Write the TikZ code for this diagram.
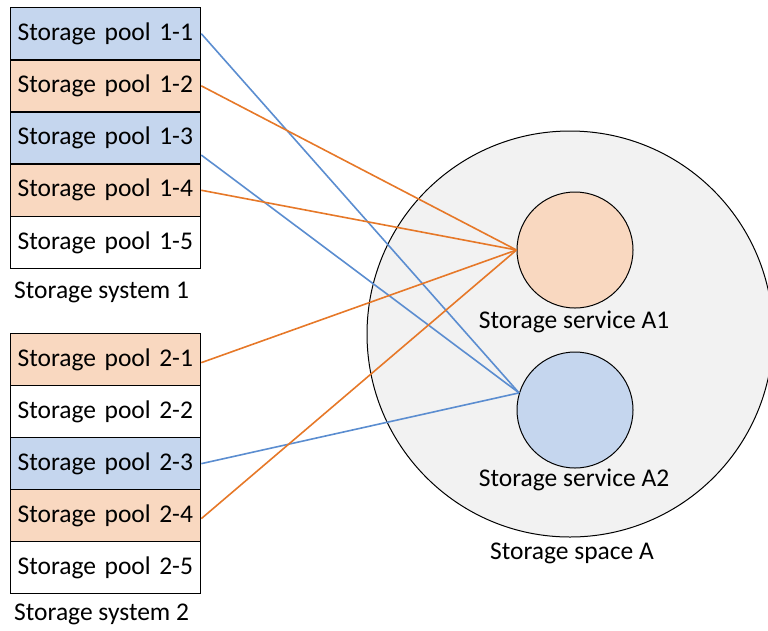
\documentclass[tikz,border=0pt]{standalone}
\usepackage{fontspec}
\setmainfont{Carlito}
\definecolor{bfill}{RGB}{197,214,238}
\definecolor{ofill}{RGB}{249,216,192}
\definecolor{bline}{RGB}{91,141,208}
\definecolor{oline}{RGB}{230,120,40}
\definecolor{spacefill}{RGB}{242,242,242}
\begin{document}
\begin{tikzpicture}[x=1pt,y=-1pt,
  pool/.style={draw=black, line width=1.3pt, minimum width=190pt, minimum height=52pt, text width=176pt, inner xsep=7pt, align=left, anchor=north west, font=\fontsize{25.5}{30}\selectfont},
  lbl/.style={font=\fontsize{25.5}{30}\selectfont, inner sep=0pt},
  svc/.style={draw=black, line width=1pt, circle, minimum size=116pt, inner sep=0pt},
  bl/.style={draw=bline, line width=1.6pt},
  ol/.style={draw=oline, line width=1.6pt}]
\useasboundingbox (0,0) rectangle (768,630);
% storage space
\node[draw=black, line width=1pt, circle, fill=spacefill, minimum size=406pt, inner sep=0pt] (space) at (570,334) {};
\node[svc, fill=ofill] (a1) at (575,250) {};
\node[svc, fill=bfill] (a2) at (575,410) {};
\node[lbl] (a1l) at (574,322) {Storage service A1};
\node[lbl] (a2l) at (574,480) {Storage service A2};
\node[lbl] (spl) at (572,553) {Storage space A};
% system 1
\node[pool, fill=bfill] (p11) at (10,7) {Storage pool 1-1};
\node[pool, fill=ofill] (p12) at (10,59.2) {Storage pool 1-2};
\node[pool, fill=bfill] (p13) at (10,111.4) {Storage pool 1-3};
\node[pool, fill=ofill] (p14) at (10,163.6) {Storage pool 1-4};
\node[pool, fill=white] (p15) at (10,215.8) {Storage pool 1-5};
\node[lbl, anchor=west] (s1) at (14,292) {Storage system 1};
% system 2
\node[pool, fill=ofill] (p21) at (10,333) {Storage pool 2-1};
\node[pool, fill=white] (p22) at (10,385) {Storage pool 2-2};
\node[pool, fill=bfill] (p23) at (10,437) {Storage pool 2-3};
\node[pool, fill=ofill] (p24) at (10,489) {Storage pool 2-4};
\node[pool, fill=white] (p25) at (10,541) {Storage pool 2-5};
\node[lbl, anchor=west] (s2) at (14,614) {Storage system 2};
% connectors
\draw[bl] (p11.east) -- (a2.163);
\draw[bl] ([yshift=-17pt]p13.east) -- (a2.163);
\draw[bl] (p23.east) -- (a2.163);
\draw[ol] (p12.east) -- (a1.west);
\draw[ol] (p14.east) -- (a1.west);
\draw[ol] ([yshift=-3pt]p21.east) -- (a1.west);
\draw[ol] ([yshift=-3pt]p24.east) -- (a1.west);
\end{tikzpicture}
\end{document}
